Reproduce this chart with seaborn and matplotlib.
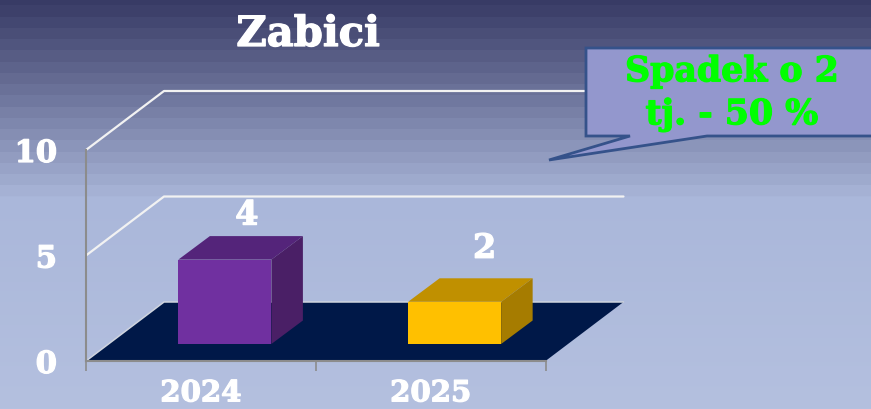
import numpy as np
import matplotlib
matplotlib.use('Agg')
import matplotlib.pyplot as plt
import matplotlib.patheffects as pe
import seaborn as sns
from matplotlib.colors import LinearSegmentedColormap
from matplotlib.patches import Polygon
from matplotlib.transforms import IdentityTransform

years = ['2024', '2025']
values = [4, 2]
y_ticks = [0, 5, 10]
grid_values = [5, 10]
bar_colors = ['#7030a0', '#ffc000']
top_colors = ['#54247a', '#c09000']
side_colors = ['#4a1f66', '#a67c00']

title = 'Zabici'
callout_text = 'Spadek o 2\ntj. - 50 %'

W, H = 871, 409
FLOOR_DX, FLOOR_DY = 78, 59    # depth of the whole 3d box, pixels
BAR_DX, BAR_DY = 24, 17        # front of bars sits inside the floor
CUBE_DX, CUBE_DY = 31.5, 23.5  # depth of a bar
label_dx = [46, 54]
label_dy = [45, 54]

sns.set_theme(style='white')
plt.rcParams['font.family'] = ['DejaVu Serif']

white_bold = [pe.withStroke(linewidth=0.9, foreground='white')]
green_bold = [pe.withStroke(linewidth=0.9, foreground='#00ff00')]

fig = plt.figure(figsize=(W / 100, H / 100), dpi=100)

# banded background, flat below the last band
bg = fig.add_axes([0, 0, 1, 1], zorder=0)
cmap = LinearSegmentedColormap.from_list('bg', [(0, '#383b65'), (0.465, '#a5b1d4'), (0.482, '#aab7da'), (1, '#b4c0df')])
rows = np.arange(H)
centre = np.floor((rows - 5) / 11.25) * 11.25 + 5 + 5.6
bands = np.where(rows < 196, centre, rows) / H
bg.imshow(bands[:, None], cmap=cmap, vmin=0, vmax=1, aspect='auto', extent=(0, W, H, 0))
bg.axis('off')

# chart
ax = fig.add_axes([86 / W, (H - 361) / H, 459.5 / W, 211 / H], zorder=1)
ax.patch.set_alpha(0)
sns.barplot(x=years, y=values, hue=years, palette=bar_colors, width=0.405, legend=False,
            saturation=1, linewidth=0, ax=ax)
ax.set_xlim(-0.5, 1.5)
ax.set_ylim(0, 10)
ax.set_xlabel('')
ax.set_ylabel('')


def to_px(x, y, dx=0, dy=0):
    px = ax.transData.transform((x, y))
    return (px[0] + dx, px[1] + dy)


def face(points, color, z):
    ax.add_patch(Polygon(points, closed=True, facecolor=color, edgecolor='none',
                         transform=IdentityTransform(), clip_on=False, zorder=z))


def edge(points, color='#f2f2f2', lw=1.6):
    xs, ys = zip(*points)
    ax.plot(xs, ys, color=color, lw=lw, transform=IdentityTransform(), clip_on=False,
            zorder=1.5, solid_capstyle='round')


# floor and walls
face([to_px(-0.5, 0), to_px(1.5, 0), to_px(1.5, 0, FLOOR_DX, FLOOR_DY), to_px(-0.5, 0, FLOOR_DX, FLOOR_DY)],
     '#001848', 1)
edge([to_px(-0.5, 0), to_px(-0.5, 0, FLOOR_DX, FLOOR_DY), to_px(1.5, 0, FLOOR_DX, FLOOR_DY)], color='#cfd4de', lw=1.1)
for g in grid_values:
    edge([to_px(-0.5, g), to_px(-0.5, g, FLOOR_DX, FLOOR_DY), to_px(1.5, g, FLOOR_DX, FLOOR_DY)])

# bars: seaborn draws the front, the depth goes on top of that
for i, patch in enumerate(ax.patches[:len(values)]):
    x0, x1 = patch.get_x(), patch.get_x() + patch.get_width()
    v = values[i]
    patch.set_transform(IdentityTransform())
    a = to_px(x0, 0, BAR_DX, BAR_DY)
    b = to_px(x1, v, BAR_DX, BAR_DY)
    patch.set_xy(a)
    patch.set_width(b[0] - a[0])
    patch.set_height(b[1] - a[1])
    patch.set_edgecolor('none')
    patch.set_clip_on(False)
    patch.set_zorder(3)
    tl = to_px(x0, v, BAR_DX, BAR_DY)
    tr = to_px(x1, v, BAR_DX, BAR_DY)
    br = to_px(x1, 0, BAR_DX, BAR_DY)
    face([tl, tr, (tr[0] + CUBE_DX, tr[1] + CUBE_DY), (tl[0] + CUBE_DX, tl[1] + CUBE_DY)], top_colors[i], 2.5)
    face([tr, br, (br[0] + CUBE_DX, br[1] + CUBE_DY), (tr[0] + CUBE_DX, tr[1] + CUBE_DY)], side_colors[i], 2.5)
    ax.annotate(str(v), xy=(i, v), xytext=(label_dx[i] * 0.72, label_dy[i] * 0.72), textcoords='offset points',
                ha='center', va='bottom', color='white', fontsize=24, fontweight='bold', annotation_clip=False,
                path_effects=white_bold)

# axes lines and ticks
sns.despine(ax=ax, top=True, right=True)
for s in ['left', 'bottom']:
    ax.spines[s].set_color('#8c8c8c')
    ax.spines[s].set_linewidth(1.5)
ax.set_yticks(y_ticks)
ax.set_xticks([-0.5, 0.5, 1.5])
ax.set_xticklabels([])
ax.set_xticks([0, 1], labels=years, minor=True)
ax.tick_params(axis='y', length=7, width=1.2, color='#8c8c8c', pad=14, labelsize=22, labelcolor='white')
ax.tick_params(axis='x', which='major', length=7, width=1.2, color='#8c8c8c', bottom=True)
ax.tick_params(axis='x', which='minor', length=0, pad=12.5, labelsize=21, labelcolor='white')
for t in ax.get_yticklabels() + ax.get_xticklabels(minor=True):
    t.set_fontweight('bold')
    t.set_path_effects(white_bold)

fig.text(308 / W, 1 - 34 / H, title, ha='center', va='center', color='white', fontsize=30, fontweight='bold',
         path_effects=white_bold)

# callout
over = fig.add_axes([0, 0, 1, 1], zorder=2)
over.set_xlim(0, W)
over.set_ylim(H, 0)
over.axis('off')
over.add_patch(Polygon([(586, 48), (W + 5, 48), (W + 5, 136), (707, 136), (549, 160), (630, 136), (586, 136)],
                       closed=True, facecolor='#9397cd', edgecolor='#35528a', lw=2.0, joinstyle='miter'))
over.text(732, 93, callout_text, ha='center', va='center', color='#00ff00', fontsize=25, fontweight='bold',
          linespacing=1.33, path_effects=green_bold)

fig.savefig('out.png', dpi=100)
